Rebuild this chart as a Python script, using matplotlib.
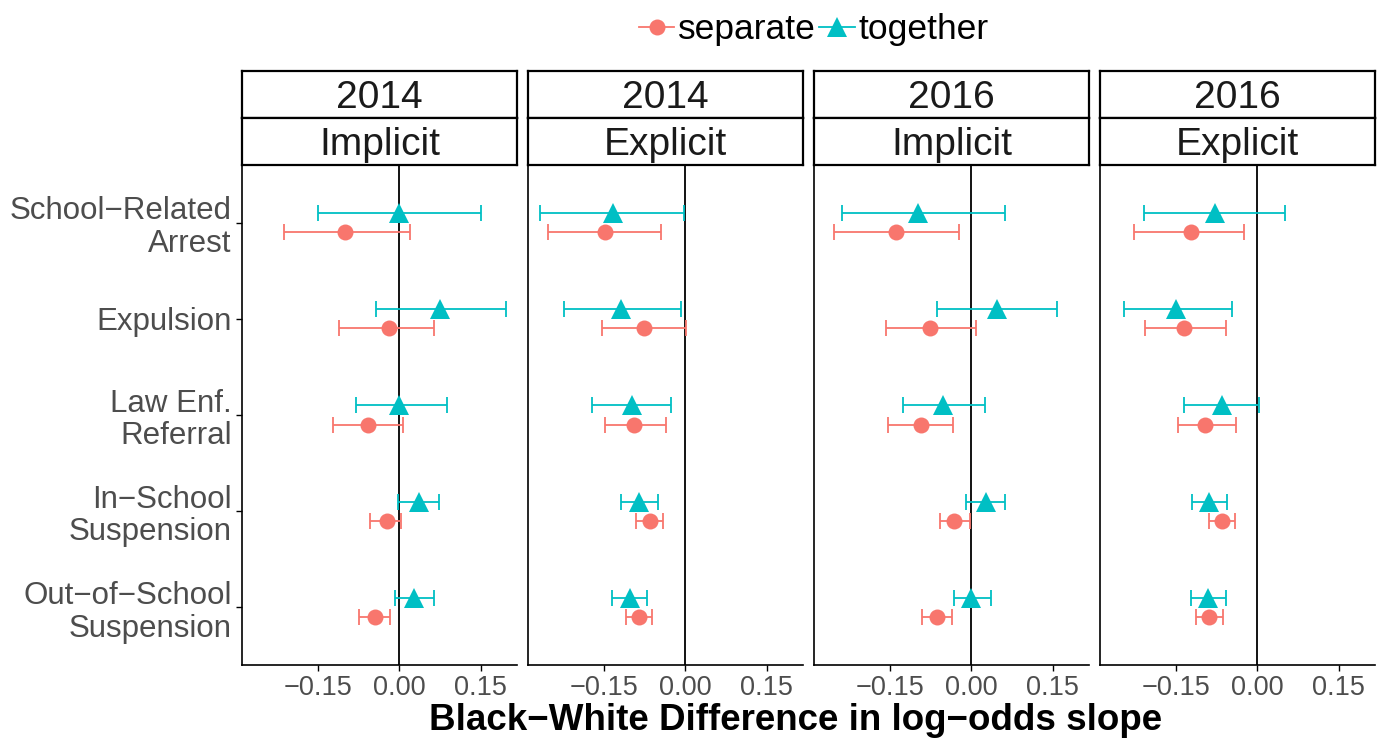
import numpy as np
import matplotlib.pyplot as plt
from matplotlib.lines import Line2D

plt.rcParams['font.family'] = ['Liberation Sans', 'DejaVu Sans']

# kategorije od zgoraj navzdol
kategorije = ["School\u2212Related\nArrest", "Expulsion", "Law Enf.\nReferral",
              "In\u2212School\nSuspension", "Out\u2212of\u2212School\nSuspension"]
leta = ["2014", "2014", "2016", "2016"]
tipi = ["Implicit", "Explicit", "Implicit", "Explicit"]

# separate: ocena, spodnja, zgornja meja (po panelih, kategorije od zgoraj)
sep_est = [[-0.099, -0.018, -0.058, -0.023, -0.045],
           [-0.147, -0.075, -0.094, -0.065, -0.085],
           [-0.139, -0.075, -0.092, -0.031, -0.063],
           [-0.122, -0.134, -0.095, -0.065, -0.088]]
sep_lo = [[-0.212, -0.110, -0.121, -0.053, -0.074],
          [-0.252, -0.153, -0.147, -0.091, -0.109],
          [-0.253, -0.156, -0.153, -0.057, -0.091],
          [-0.226, -0.206, -0.146, -0.089, -0.112]]
sep_hi = [[0.020, 0.065, 0.007, 0.003, -0.016],
          [-0.045, 0.002, -0.035, -0.040, -0.060],
          [-0.023, 0.009, -0.034, -0.002, -0.035],
          [-0.024, -0.058, -0.039, -0.040, -0.063]]

# together
tog_est = [[0.000, 0.075, 0.000, 0.037, 0.028],
           [-0.133, -0.118, -0.097, -0.085, -0.102],
           [-0.098, 0.048, -0.052, 0.027, 0.000],
           [-0.078, -0.150, -0.064, -0.088, -0.090]]
tog_lo = [[-0.149, -0.043, -0.079, -0.002, -0.007],
          [-0.267, -0.223, -0.171, -0.117, -0.134],
          [-0.238, -0.062, -0.125, -0.009, -0.032],
          [-0.208, -0.244, -0.134, -0.120, -0.121]]
tog_hi = [[0.150, 0.196, 0.088, 0.074, 0.064],
          [-0.002, -0.008, -0.026, -0.050, -0.070],
          [0.062, 0.158, 0.025, 0.062, 0.036],
          [0.051, -0.046, 0.003, -0.055, -0.058]]

barva_sep = "#F8766D"
barva_tog = "#00BFC4"

W, H = 1391, 740
fig = plt.figure(figsize=(W / 100, H / 100), dpi=100)

y = np.arange(len(kategorije))[::-1] + 1.0
levi = [242, 528, 814, 1100]
sirina = 275
pan_top, pan_bot = 165, 665

for i in range(4):
    ax = fig.add_axes([levi[i] / W, 1 - pan_bot / H, sirina / W, (pan_bot - pan_top) / H])
    ax.axvline(0, color="black", lw=1.3, zorder=1)
    for est, lo, hi, barva, mk, ms, off in [
            (sep_est[i], sep_lo[i], sep_hi[i], barva_sep, "o", 11.5, -0.1),
            (tog_est[i], tog_lo[i], tog_hi[i], barva_tog, "^", 14, 0.1)]:
        est = np.array(est)
        xerr = [est - np.array(lo), np.array(hi) - est]
        ax.errorbar(est, y + off, xerr=xerr, fmt="none", ecolor=barva,
                    elinewidth=1.3, capsize=5.5, capthick=1.3, zorder=2)
        ax.plot(est, y + off, linestyle="none", marker=mk, ms=ms,
                color=barva, markeredgewidth=0, zorder=3)
    ax.set_xlim(-0.289, 0.217)
    ax.set_ylim(0.4, 5.6)
    ax.set_xticks([-0.15, 0.0, 0.15])
    ax.set_xticklabels(["\u22120.15", "0.00", "0.15"])
    ax.tick_params(axis="x", labelsize=19.5, labelcolor="#4D4D4D", length=4, width=1)
    if i == 0:
        ax.set_yticks(y)
        ax.set_yticklabels(kategorije, linespacing=1.12)
        ax.tick_params(axis="y", labelsize=22.5, labelcolor="#4D4D4D", length=4, width=1)
    else:
        ax.set_yticks([])
    for s in ["top", "right"]:
        ax.spines[s].set_visible(False)
    for s in ["left", "bottom"]:
        ax.spines[s].set_linewidth(1.2)

    # trakovi z naslovi
    for tekst, t0, t1 in [(leta[i], 70.5, 118), (tipi[i], 118, 164.5)]:
        sx = fig.add_axes([levi[i] / W, 1 - t1 / H, sirina / W, (t1 - t0) / H])
        sx.set_xticks([])
        sx.set_yticks([])
        for s in sx.spines.values():
            s.set_linewidth(1.6)
        sx.text(0.5, 0.42, tekst, ha="center", va="center", fontsize=28,
                color="#1A1A1A", transform=sx.transAxes)

fig.text(795.5 / W, 1 - 720 / H, "Black\u2212White Difference in log\u2212odds slope",
         ha="center", va="center", fontsize=26.5, fontweight="bold")

rocaji = [Line2D([], [], color=barva_sep, marker="o", ms=11.5, lw=1.3, markeredgewidth=0),
          Line2D([], [], color=barva_tog, marker="^", ms=14, lw=1.3, markeredgewidth=0)]
fig.legend(rocaji, ["separate", "together"], loc="center", bbox_to_anchor=(0.585, 1 - 30 / H),
           ncol=2, frameon=False, fontsize=25.5, handlelength=1.0, handletextpad=0.1,
           columnspacing=0.1, borderpad=0)

fig.savefig("out.png", dpi=100)
